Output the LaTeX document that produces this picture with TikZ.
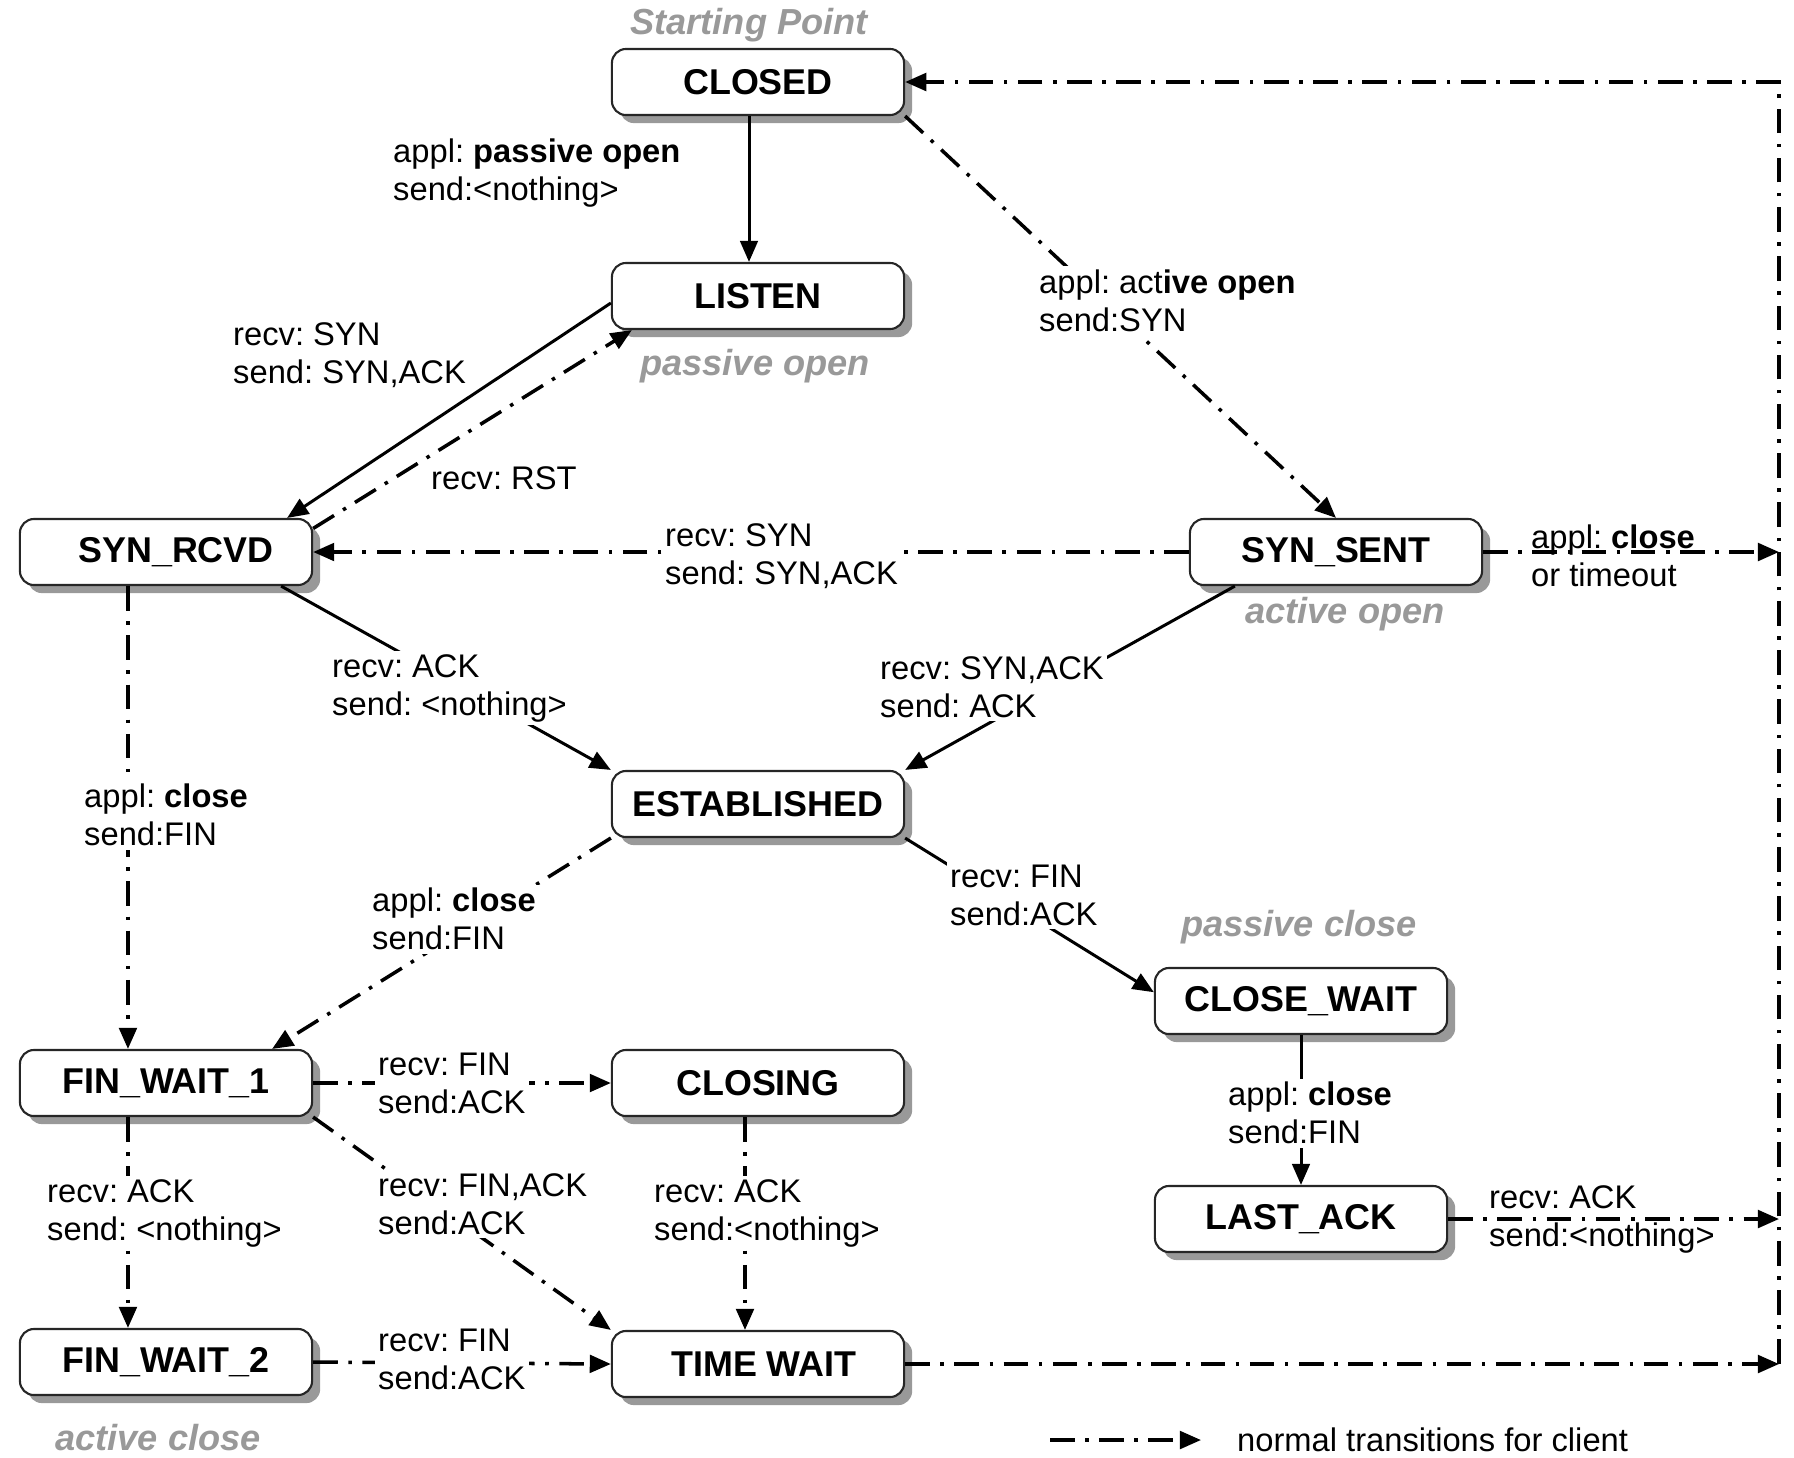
\documentclass[tikz,border=0pt]{standalone}
\usepackage{fontspec}
\setmainfont{Liberation Sans}
\usetikzlibrary{arrows.meta,shadows}
\frenchspacing

\begin{document}
\begin{tikzpicture}[x=0.01cm,y=-0.01cm,
    >={Triangle[length=6pt,width=5pt]},
    state/.style={draw=black!85,line width=0.6pt,rounded corners=4pt,fill=white,
        minimum width=2.92cm,minimum height=0.66cm,inner sep=0pt,
        font=\fontsize{10.2}{12}\selectfont\bfseries,
        drop shadow={shadow xshift=2.3pt,shadow yshift=-2.3pt,fill=black!40,opacity=1}},
    lbl/.style={anchor=west,align=left,inner sep=1pt,font=\fontsize{9.3}{10.8}\selectfont},
    lblw/.style={lbl,fill=white},
    phase/.style={text=black!40,font=\fontsize{10.3}{12}\selectfont\bfseries\itshape},
    arcsolid/.style={->,line width=0.85pt},
    arcclient/.style={->,line width=1pt,dash pattern=on 7pt off 3pt on 1pt off 3pt}]
    \useasboundingbox (0,0) rectangle (1794,1457);

    % States
    \node[state] (closed) at (758,82) {CLOSED};
    \node[state] (listen) at (758,296) {LISTEN};
    \node[state] (synrcvd) at (166,552) {\hspace{0.2cm}SYN\_RCVD};
    \node[state] (synsent) at (1336,552) {SYN\_SENT};
    \node[state] (estab) at (758,804) {ESTABLISHED};
    \node[state] (closewait) at (1301,1001) {CLOSE\_WAIT};
    \node[state] (finwait1) at (166,1083) {FIN\_WAIT\_1};
    \node[state] (closing) at (758,1083) {CLOSING};
    \node[state] (lastack) at (1301,1219) {LAST\_ACK};
    \node[state] (finwait2) at (166,1362) {FIN\_WAIT\_2};
    \node[state] (timewait) at (758,1364) {\hspace{0.12cm}TIME WAIT};
    \coordinate (ret) at (1779,1364);

    % Phase captions
    \node[phase] (startpt) at (749,25) {Starting Point};
    \node[phase] (popen) at (755,366) {passive open};
    \node[phase] (aopen) at (1345,614) {active open};
    \node[phase] (pclose) at (1299,927) {passive close};
    \node[phase] (aclose) at (158,1438) {active close};

    % Open
    \draw[arcsolid] ([xshift=-0.09cm]closed.south) -- ([xshift=-0.09cm]listen.north);
    \draw[arcclient] (closed.south east) -- (synsent.north);
    \draw[arcsolid] ([yshift=-2pt]listen.west) -- ([xshift=-0.26cm]synrcvd.north east);
    \draw[arcclient] ([yshift=-3pt]synrcvd.north east) -- ([xshift=0.21cm]listen.south west);
    \draw[arcclient] (synsent.west) -- (synrcvd.east);
    \draw[arcclient] (synsent.east) -- (synsent.east -| ret);
    \draw[arcsolid] ([xshift=-0.32cm]synrcvd.south east) -- (estab.north west);
    \draw[arcsolid] ([xshift=0.46cm]synsent.south west) -- (estab.north east);

    % Close
    \draw[arcclient] ([xshift=-0.38cm]synrcvd.south) -- ([xshift=-0.38cm]finwait1.north);
    \draw[arcclient] (estab.south west) -- ([xshift=-0.41cm]finwait1.north east);
    \draw[arcsolid] (estab.south east) -- ([yshift=2.5pt]closewait.west);
    \draw[arcsolid] (closewait.south) -- (lastack.north);
    \draw[arcclient] (lastack.east) -- (lastack.east -| ret);
    \draw[arcclient] (finwait1.east) -- (closing.west);
    \draw[arcclient] ([xshift=-0.38cm]finwait1.south) -- ([xshift=-0.38cm]finwait2.north);
    \draw[arcclient] (finwait1.south east) -- (timewait.north west);
    \draw[arcclient] ([xshift=-0.13cm]closing.south) -- ([xshift=-0.13cm]timewait.north);
    \draw[arcclient] (finwait2.east) -- (timewait.west);
    \draw[arcclient] (timewait.east) -- (ret);
    \draw[arcclient] (ret) |- (closed.east);

    % Transition labels
    \node[lbl] (l1) at (389,173) {appl: \textbf{passive open}\\send:<nothing>};
    \node[lblw] (l2) at (1035,301) {appl: act\textbf{ive open}\\send:SYN};
    \node[lbl] (l3) at (229,355) {recv: SYN\\send: SYN,ACK};
    \node[lblw] (l4) at (427,478) {recv: RST};
    \node[lblw] (l5) at (661,556) {recv: SYN\\send: SYN,ACK};
    \node[lbl] (l6) at (1527,556) {appl: \textbf{close}\\or timeout};
    \node[lblw] (l7) at (328,688) {recv: ACK\\send: <nothing>};
    \node[lblw] (l8) at (876,687) {recv: SYN,ACK\\send: ACK};
    \node[lblw] (l9) at (80,815) {appl: \textbf{close}\\send:FIN};
    \node[lblw] (l10) at (368,919) {appl: \textbf{close}\\send:FIN};
    \node[lblw] (l11) at (946,895) {recv: FIN\\send:ACK};
    \node[lblw] (l12) at (1224,1113) {appl: \textbf{close}\\send:FIN};
    \node[lbl] (l13) at (1485,1219) {recv: ACK\\send:<nothing>};
    \node[lblw] (l14) at (374,1083) {recv: FIN\\send:ACK};
    \node[lblw] (l15) at (43,1213) {recv: ACK\\send: <nothing>};
    \node[lblw] (l16) at (374,1204) {recv: FIN,ACK\\send:ACK};
    \node[lblw] (l17) at (650,1213) {recv: ACK\\send:<nothing>};
    \node[lblw] (l18) at (374,1359) {recv: FIN\\send:ACK};

    % Legend
    \coordinate (lega) at (1050,1440);
    \coordinate (legb) at (1201,1440);
    \draw[arcclient] (lega) -- (legb);
    \node[lbl] (legtext) at (1233,1440) {normal transitions for client};
\end{tikzpicture}
\end{document}
